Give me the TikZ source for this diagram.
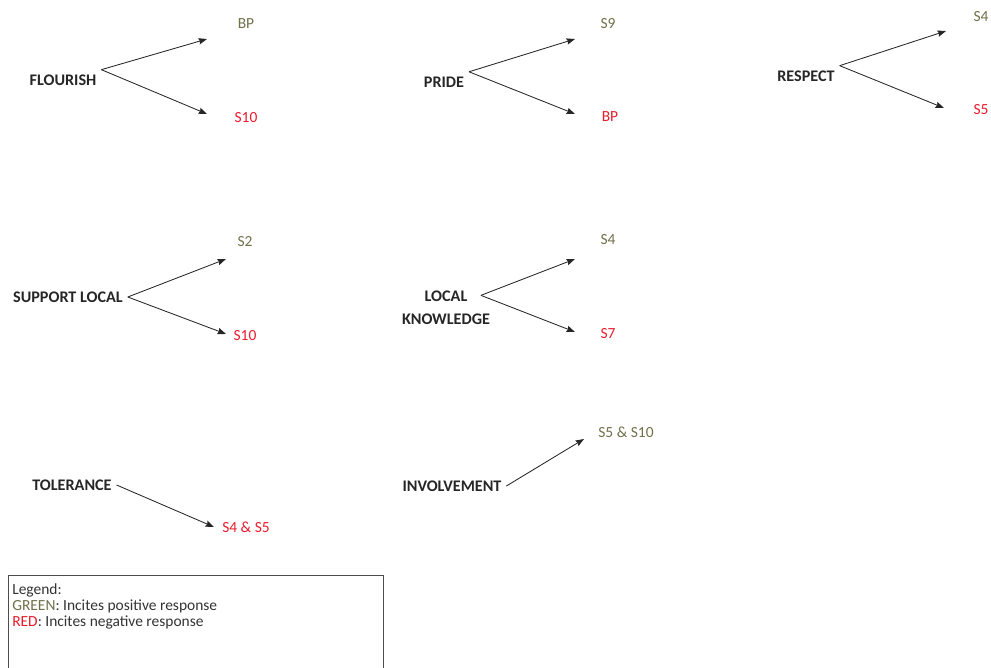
\documentclass[tikz,border=0pt]{standalone}
\usepackage{fontspec}
\setmainfont{Carlito}
\usetikzlibrary{positioning,arrows.meta}
\definecolor{posgreen}{RGB}{112,112,74}
\definecolor{negred}{RGB}{232,28,44}

\begin{document}
\begin{tikzpicture}[
    x=0.025cm, y=-0.025cm,
    arrowstyle/.style={draw, -{Stealth[length=6pt,width=4.5pt,inset=0.8pt]},
        line width=0.6pt, black!85},
    factor/.style={font=\fontsize{11.5}{13}\selectfont\bfseries, text=black!85,
        align=center},
    positive/.style={font=\fontsize{11}{13}\selectfont, text=posgreen},
    negative/.style={font=\fontsize{11}{13}\selectfont, text=negred},
    legendbox/.style={draw=black!70, line width=0.6pt},
    legendtext/.style={font=\fontsize{11}{11.5}\selectfont, text=black!80,
        align=left, anchor=north west, inner sep=0pt}
]
\useasboundingbox (0,0) rectangle (991,668);

% first row
\node (Flourish) [factor] at (63,80) {FLOURISH};
\node (FlourishBP) [positive] at (246,24) {BP};
\node (FlourishS10) [negative] at (246,118) {S10};
\coordinate (FlourishUp) at (207,39);
\coordinate (FlourishDown) at (207,114);
\draw[arrowstyle] (Flourish.north east) -- (FlourishUp);
\draw[arrowstyle] (Flourish.north east) -- (FlourishDown);

\node (Pride) [factor] at (444,82) {PRIDE};
\node (PrideS9) [positive] at (608,24) {S9};
\node (PrideBP) [negative] at (610,117) {BP};
\coordinate (PrideUp) at (575,39);
\coordinate (PrideDown) at (575,114);
\draw[arrowstyle] (Pride.north east) -- (PrideUp);
\draw[arrowstyle] (Pride.north east) -- (PrideDown);

\node (Respect) [factor] at (806,76) {RESPECT};
\node (RespectS4) [positive] at (981,17) {S4};
\node (RespectS5) [negative] at (981,110) {S5};
\coordinate (RespectUp) at (946,31);
\coordinate (RespectDown) at (944,108);
\draw[arrowstyle] (Respect.north east) -- (RespectUp);
\draw[arrowstyle] (Respect.north east) -- (RespectDown);

% second row
\node (Support) [factor] at (68,297) {SUPPORT LOCAL};
\node (SupportS2) [positive] at (245,242) {S2};
\node (SupportS10) [negative] at (245,336) {S10};
\coordinate (SupportUp) at (226,259);
\coordinate (SupportDown) at (226,334);
\draw[arrowstyle] (Support.east) -- (SupportUp);
\draw[arrowstyle] (Support.east) -- (SupportDown);

\node (Knowledge) [factor] at (446,308) {LOCAL\\[3pt]KNOWLEDGE};
\node (KnowledgeS4) [positive] at (608,240) {S4};
\node (KnowledgeS7) [negative] at (608,334) {S7};
\coordinate (KnowledgeUp) at (575,259);
\coordinate (KnowledgeDown) at (575,332);
\draw[arrowstyle] ([xshift=-10pt,yshift=9pt]Knowledge.east) -- (KnowledgeUp);
\draw[arrowstyle] ([xshift=-10pt,yshift=9pt]Knowledge.east) -- (KnowledgeDown);

% third row
\node (Tolerance) [factor] at (72,485) {TOLERANCE};
\node (ToleranceS) [negative] at (246,527) {S4 \& S5};
\coordinate (ToleranceTip) at (214,527);
\draw[arrowstyle] (Tolerance.east) -- (ToleranceTip);

\node (Involvement) [factor] at (452,486) {INVOLVEMENT};
\node (InvolvementS) [positive] at (626,432) {S5 \& S10};
\coordinate (InvolvementTip) at (584,439);
\draw[arrowstyle] (Involvement.east) -- (InvolvementTip);

% legend
\draw[legendbox] (8,668) -- (8,575) -- (383,575) -- (383,668);
\node (Legend) [legendtext] at (12,583) {Legend:\\
    \textcolor{posgreen}{GREEN}: Incites positive response\\
    \textcolor{negred}{RED}: Incites negative response};
\end{tikzpicture}
\end{document}
